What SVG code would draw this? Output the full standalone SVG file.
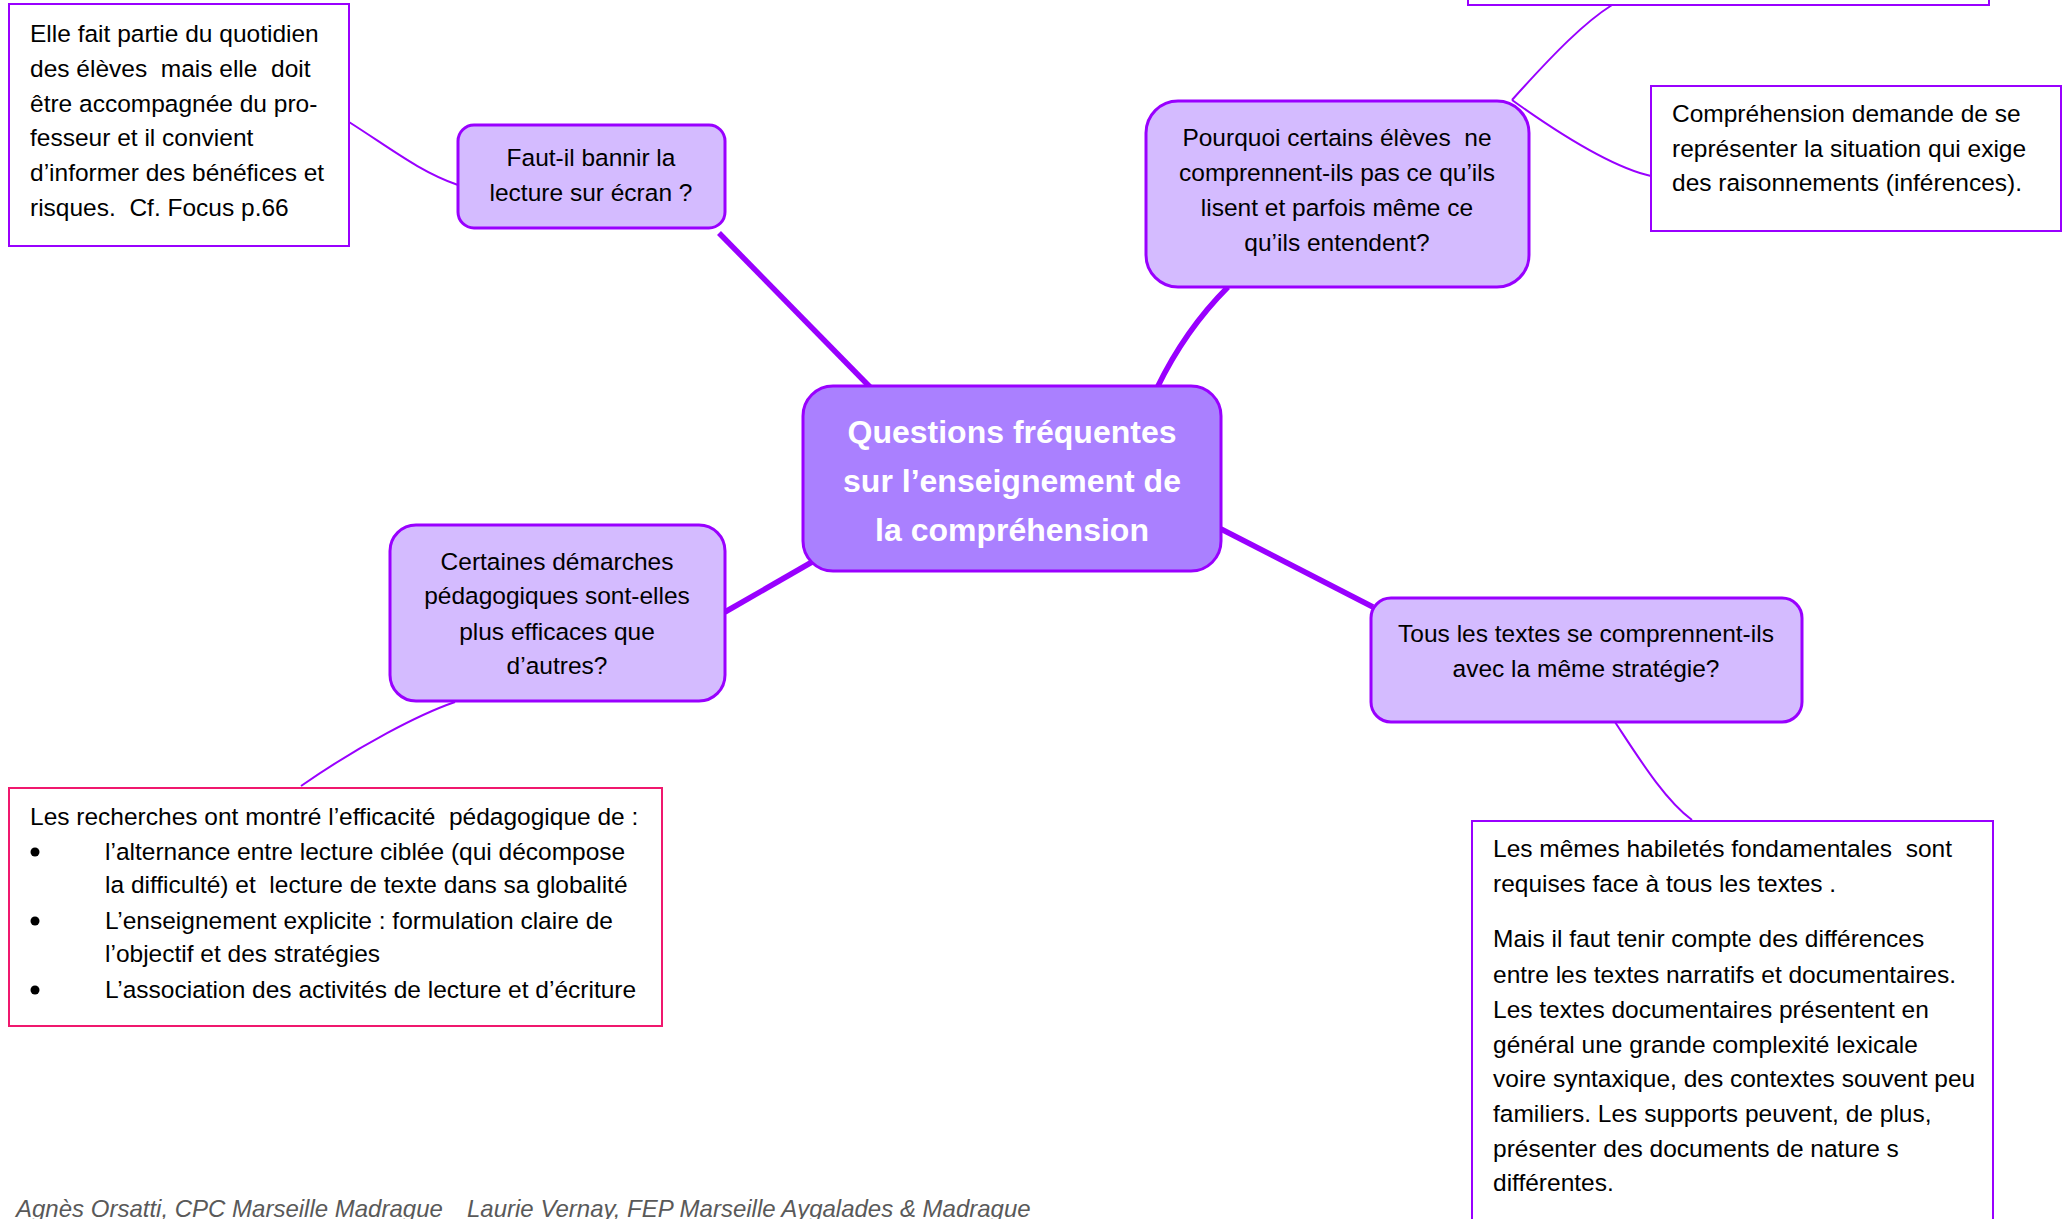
<svg xmlns="http://www.w3.org/2000/svg" width="2068" height="1219" viewBox="0 0 2068 1219">
<style>
.q{fill:#d4bbff;stroke:#9900ff;stroke-width:3}
.c{fill:#aa80ff;stroke:#9900ff;stroke-width:3}
.n{fill:#ffffff;stroke:#9900ff;stroke-width:2}
.p{fill:#ffffff;stroke:#f0186e;stroke-width:2}
.t{font-family:"Liberation Sans",Arial,sans-serif;font-size:24.5px;fill:#000}
.m{text-anchor:middle}
.h{font-family:"Liberation Sans",Arial,sans-serif;font-size:32px;font-weight:bold;fill:#fff;text-anchor:middle}
.f{font-family:"Liberation Sans",Arial,sans-serif;font-size:24px;font-style:italic;fill:#595959}
.thick{fill:none;stroke:#9900ff;stroke-width:5.5}
.thin{fill:none;stroke:#9900ff;stroke-width:2}
</style>
<rect width="2068" height="1219" fill="#ffffff"/>
<g id="connectors">
<path class="thick" d="M719,233 L870,387"/>
<path class="thick" d="M1157,388 Q1185,330 1228,287"/>
<path class="thick" d="M812,562 L725,612"/>
<path class="thick" d="M1221,529 L1373,607"/>
<path class="thin" d="M349,122 C390,148 420,172 458,185"/>
<path class="thin" d="M1512,100 C1555,52 1585,22 1612,5"/>
<path class="thin" d="M1512,100 C1565,138 1615,168 1651,176"/>
<path class="thin" d="M455,702 C420,714 360,745 301,786"/>
<path class="thin" d="M1615,722 C1640,760 1665,800 1692,820"/>
</g>
<g id="node-center">
<rect class="c" x="803" y="386" width="418" height="185" rx="30"/>
<text class="h" x="1012" y="443">Questions fréquentes</text>
<text class="h" x="1012" y="492">sur l’enseignement de</text>
<text class="h" x="1012" y="541">la compréhension</text>
</g>
<g id="node-faut">
<rect class="q" x="458" y="125" width="267" height="103" rx="16"/>
<text class="t m" x="591" y="166">Faut-il bannir la</text>
<text class="t m" x="591" y="201">lecture sur écran ?</text>
</g>
<g id="note-ecran">
<rect class="n" x="9" y="4" width="340" height="242"/>
<text class="t" x="30" y="42">Elle fait partie du quotidien</text>
<text class="t" x="30" y="77" xml:space="preserve">des élèves  mais elle  doit</text>
<text class="t" x="30" y="112">être accompagnée du pro-</text>
<text class="t" x="30" y="146">fesseur et il convient</text>
<text class="t" x="30" y="181">d’informer des bénéfices et</text>
<text class="t" x="30" y="216" xml:space="preserve">risques.  Cf. Focus p.66</text>
</g>
<g id="node-pourquoi">
<rect class="q" x="1146" y="101" width="383" height="186" rx="32"/>
<text class="t m" x="1337" y="146" xml:space="preserve">Pourquoi certains élèves  ne</text>
<text class="t m" x="1337" y="181">comprennent-ils pas ce qu’ils</text>
<text class="t m" x="1337" y="216">lisent et parfois même ce</text>
<text class="t m" x="1337" y="251">qu’ils entendent?</text>
</g>
<g id="note-top">
<rect class="n" x="1468" y="-60" width="521" height="65"/>
</g>
<g id="note-comprehension">
<rect class="n" x="1651" y="86" width="410" height="145"/>
<text class="t" x="1672" y="122">Compréhension demande de se</text>
<text class="t" x="1672" y="157">représenter la situation qui exige</text>
<text class="t" x="1672" y="191">des raisonnements (inférences).</text>
</g>
<g id="node-certaines">
<rect class="q" x="390" y="525" width="335" height="176" rx="26"/>
<text class="t m" x="557" y="570">Certaines démarches</text>
<text class="t m" x="557" y="604">pédagogiques sont-elles</text>
<text class="t m" x="557" y="640">plus efficaces que</text>
<text class="t m" x="557" y="674">d’autres?</text>
</g>
<g id="note-recherches">
<rect class="p" x="9" y="788" width="653" height="238"/>
<text class="t" x="30" y="825" xml:space="preserve">Les recherches ont montré l’efficacité  pédagogique de :</text>
<circle cx="35" cy="852" r="4.5" fill="#000"/>
<text class="t" x="105" y="860">l’alternance entre lecture ciblée (qui décompose</text>
<text class="t" x="105" y="893" xml:space="preserve">la difficulté) et  lecture de texte dans sa globalité</text>
<circle cx="35" cy="921" r="4.5" fill="#000"/>
<text class="t" x="105" y="929">L’enseignement explicite : formulation claire de</text>
<text class="t" x="105" y="962">l’objectif et des stratégies</text>
<circle cx="35" cy="990" r="4.5" fill="#000"/>
<text class="t" x="105" y="998">L’association des activités de lecture et d’écriture</text>
</g>
<g id="node-tous">
<rect class="q" x="1371" y="598" width="431" height="124" rx="20"/>
<text class="t m" x="1586" y="642">Tous les textes se comprennent-ils</text>
<text class="t m" x="1586" y="677">avec la même stratégie?</text>
</g>
<g id="note-textes">
<rect class="n" x="1472" y="821" width="521" height="440"/>
<text class="t" x="1493" y="857" xml:space="preserve">Les mêmes habiletés fondamentales  sont</text>
<text class="t" x="1493" y="892">requises face à tous les textes .</text>
<text class="t" x="1493" y="947">Mais il faut tenir compte des différences</text>
<text class="t" x="1493" y="983">entre les textes narratifs et documentaires.</text>
<text class="t" x="1493" y="1018">Les textes documentaires présentent en</text>
<text class="t" x="1493" y="1053">général une grande complexité lexicale</text>
<text class="t" x="1493" y="1087">voire syntaxique, des contextes souvent peu</text>
<text class="t" x="1493" y="1122">familiers. Les supports peuvent, de plus,</text>
<text class="t" x="1493" y="1157">présenter des documents de nature s</text>
<text class="t" x="1493" y="1191">différentes.</text>
</g>
<g id="footer">
<text class="f" x="16" y="1217">Agnès Orsatti, CPC Marseille Madrague</text>
<text class="f" x="467" y="1217">Laurie Vernay, FEP Marseille Aygalades &amp; Madrague</text>
</g>
</svg>
